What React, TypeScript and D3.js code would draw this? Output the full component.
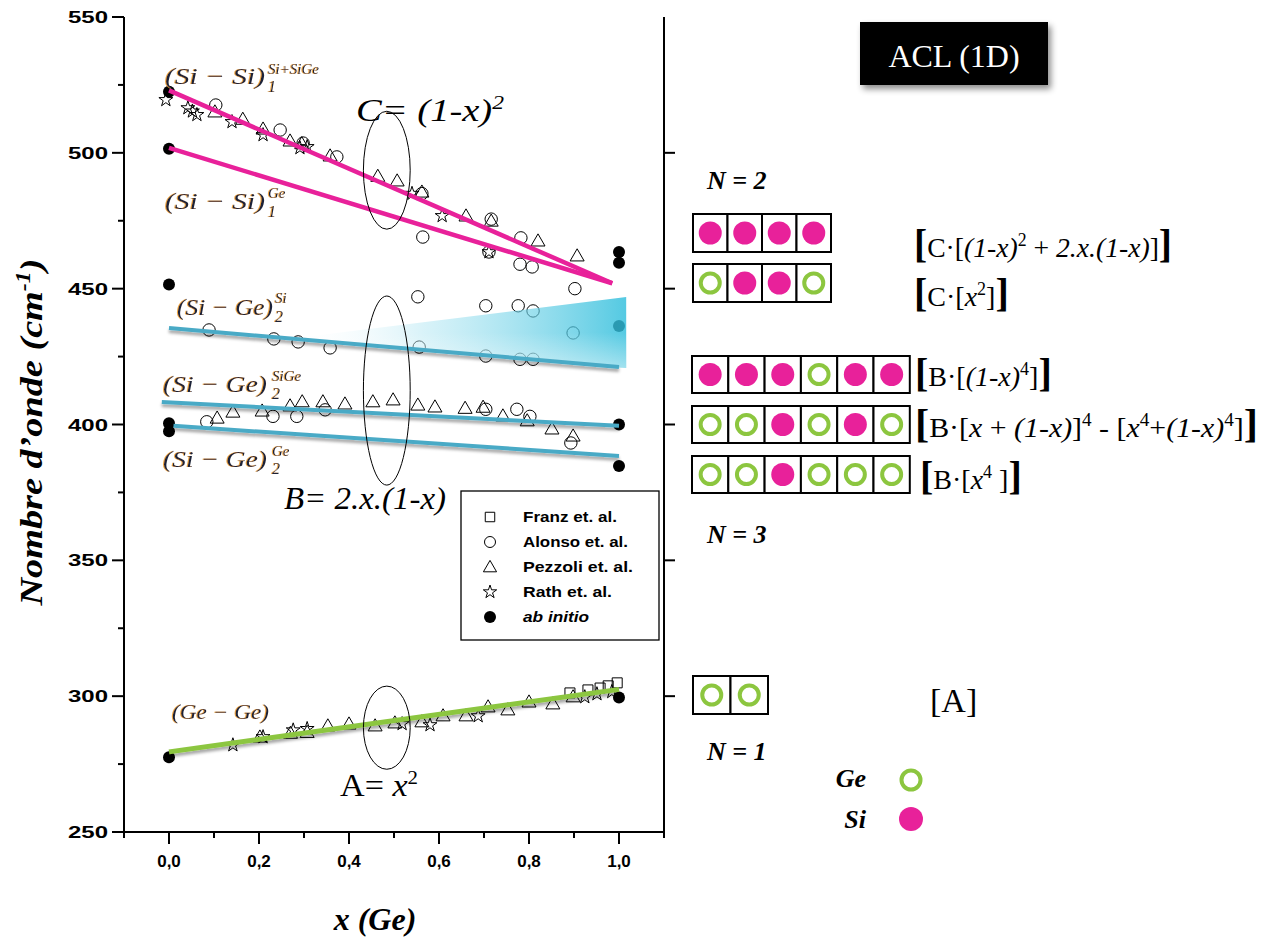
import React from "react";
import * as d3 from "d3";

// ---------- data ----------
const xTickLabels = [0, 0.2, 0.4, 0.6, 0.8, 1.0];
const yTickLabels = [250, 300, 350, 400, 450, 500, 550];

const abInitio: [number, number][] = [
  [0, 522.5], [0, 501.5], [0, 451.5], [0, 400.5], [0, 397.5], [0, 277.5],
  [1, 463.5], [1, 459.5], [1, 436.3], [1, 400], [1, 384.7], [1, 299.5],
];

const franz: [number, number][] = [
  [0.891, 301.2], [0.931, 302.3], [0.958, 303], [0.976, 303.8], [0.996, 304.9],
];

const alonso: [number, number][] = [
  [0.104, 517.6], [0.247, 508.4], [0.298, 503.6], [0.373, 498.5], [0.562, 485],
  [0.564, 469], [0.716, 475.6], [0.711, 463.5], [0.782, 468.7], [0.78, 459],
  [0.807, 458], [0.902, 450],
  [0.089, 434.8], [0.233, 431.5], [0.287, 430.4], [0.358, 428.2], [0.553, 447],
  [0.704, 443.7], [0.776, 443.7], [0.809, 441.8], [0.898, 433.7], [0.556, 428.5],
  [0.704, 425.2], [0.78, 424], [0.809, 424],
  [0.084, 401], [0.231, 403], [0.284, 403], [0.347, 405.4], [0.704, 405.6],
  [0.773, 405.6], [0.802, 403], [0.893, 393.2],
];

const pezzoli: [number, number][] = [
  [0.102, 514.7], [0.164, 512], [0.209, 508.4], [0.269, 504], [0.295, 503],
  [0.358, 498.5], [0.464, 491], [0.507, 489.3], [0.562, 485.2], [0.66, 476.4],
  [0.716, 474.5], [0.82, 467.2], [0.907, 461.7],
  [0.107, 402], [0.142, 404.2], [0.207, 404.6], [0.269, 406.5], [0.296, 408],
  [0.342, 408], [0.391, 407.2], [0.453, 408], [0.498, 408.7], [0.553, 406.8],
  [0.591, 406.1], [0.658, 405.6], [0.698, 406], [0.742, 402.8], [0.796, 401],
  [0.851, 398], [0.898, 395.4],
  [0.202, 284.6], [0.27, 286], [0.307, 286.3], [0.353, 288.7], [0.4, 289.4],
  [0.458, 288.7], [0.502, 289.8], [0.562, 290.2], [0.609, 292.4], [0.66, 292.4],
  [0.709, 295.7], [0.753, 294.6], [0.8, 297.5], [0.853, 296.8], [0.898, 299.4],
];

const rath: [number, number][] = [
  [-0.007, 519.5], [0.042, 516.5], [0.052, 515.3], [0.062, 514], [0.14, 511.4],
  [0.209, 506.6], [0.291, 501.8], [0.307, 502.2], [0.54, 485], [0.607, 476.8],
  [0.711, 463.5],
  [0.142, 282], [0.209, 285], [0.276, 287.5], [0.307, 288], [0.518, 289.8],
  [0.58, 289.4], [0.687, 292.7], [0.924, 299.7], [0.951, 300.8], [0.984, 301.6],
];

const siSiLine1: [number, number][] = [[0, 523], [0.985, 452]];
const siSiLineGe: [number, number][] = [[0, 501.8], [0.985, 452]];
const siGeLineSi: [number, number][] = [[0, 435.5], [1, 421.2]];
const siGeLineSiGe: [number, number][] = [[-0.016, 408.3], [1, 399.5]];
const siGeLineGe: [number, number][] = [[0.01, 399.5], [1, 388.4]];
const geGeLine: [number, number][] = [[0, 279.5], [1, 302.5]];

const wedge: [number, number][] = [[0.269, 431.6], [1.016, 446.9], [1.016, 420.8]];

// ellipses: [cx, cy, halfWidthX, halfHeightY] in data units
const ellipses: [number, number, number, number][] = [
  [0.484, 493.6, 0.052, 21.7],
  [0.484, 412.5, 0.052, 34.8],
  [0.484, 288.4, 0.052, 15.3],
];

const legendItems = ["Franz et. al.", "Alonso et. al.", "Pezzoli et. al.", "Rath et. al.", "ab initio"];
const legendWidths = [94, 105, 110, 89, 66];

// cell patterns: S = Si (filled pink), G = Ge (green ring)
const rowsN2 = ["SSSS", "GSSG"];
const rowsN3 = ["SSSGSS", "GGSGSG", "GGSGGG"];
const rowsN1 = ["GG"];

const PINK = "#e8219a";
const GREEN = "#8cc63f";
const BLUE = "#4aaac6";

export default function App() {
  const x = d3.scaleLinear().domain([-0.1, 1.1]).range([124, 664]);
  const y = d3.scaleLinear().domain([250, 550]).range([832, 17]);
  const line = d3.line<[number, number]>().x((d) => x(d[0])).y((d) => y(d[1]));

  const sym = (type: d3.SymbolType, size: number) => d3.symbol().type(type).size(size)() as string;
  const sq = sym(d3.symbolSquare, 100);
  const tri = sym(d3.symbolTriangle, 85);
  const star = sym(d3.symbolStar, 60);

  const yAll = d3.range(250, 551, 25);
  const xAll = d3.range(-0.1, 1.1001, 0.1);
  const fmt = (v: number) => d3.format(".1f")(v).replace(".", ",");

  const serif = "'Liberation Serif', 'Times New Roman', serif";
  const sans = "'Liberation Sans', Arial, sans-serif";
  const mathCol = "#1e2438";

  const bondLabel = (
    key: string, main: string, sup: string, sub: string,
    tx: number, ty: number, w: number, supX: number, supY: number, subY: number, fs = 24
  ) => (
    <g key={key} filter="url(#glow)" fill={mathCol} fontFamily={serif} fontStyle="italic">
      <text x={tx} y={ty} fontSize={fs} textLength={w} lengthAdjust="spacingAndGlyphs">{main}</text>
      {sup && <text x={supX} y={supY} fontSize={15}>{sup}</text>}
      {sub && <text x={supX} y={subY} fontSize={16}>{sub}</text>}
    </g>
  );

  const cellRow = (pattern: string, x0: number, y0: number, cw: number, ch: number, key: string) => (
    <g key={key}>
      {pattern.split("").map((c, i) => (
        <g key={i}>
          <rect x={x0 + i * cw} y={y0} width={cw} height={ch} fill="white" stroke="black" strokeWidth={2} />
          {c === "S" ? (
            <circle cx={x0 + i * cw + cw / 2} cy={y0 + ch / 2} r={11.5} fill={PINK} />
          ) : (
            <circle cx={x0 + i * cw + cw / 2} cy={y0 + ch / 2} r={9.5} fill="none" stroke={GREEN} strokeWidth={4} />
          )}
        </g>
      ))}
    </g>
  );

  const sup = (t: string, fs = 19) => <tspan fontSize={fs} dy={-12}>{t}</tspan>;

  return (
    <svg width={1278} height={939} style={{ position: "absolute", left: 0, top: 0, background: "white" }}>
      <defs>
        <filter id="shadow" x="-5%" y="-50%" width="110%" height="250%">
          <feDropShadow dx="0" dy="3" stdDeviation="1.8" floodColor="#000" floodOpacity="0.35" />
        </filter>
        <filter id="boxShadow" x="-10%" y="-10%" width="130%" height="140%">
          <feDropShadow dx="3" dy="4" stdDeviation="3" floodColor="#000" floodOpacity="0.45" />
        </filter>
        <filter id="glow" x="-10%" y="-30%" width="120%" height="160%">
          <feGaussianBlur in="SourceAlpha" stdDeviation="0.5" result="b" />
          <feOffset in="b" dx="-1.1" dy="0.4" result="o" />
          <feFlood floodColor="#f0a030" floodOpacity="0.9" />
          <feComposite in2="o" operator="in" result="g" />
          <feMerge>
            <feMergeNode in="g" />
            <feMergeNode in="SourceGraphic" />
          </feMerge>
        </filter>
        <linearGradient id="wedgeGrad" x1="0" y1="0.5" x2="1" y2="0.5">
          <stop offset="0" stopColor="#ffffff" stopOpacity="0" />
          <stop offset="0.4" stopColor="#a8e3f1" stopOpacity="0.45" />
          <stop offset="1" stopColor="#2fbedc" stopOpacity="0.82" />
        </linearGradient>
        <linearGradient id="wedgeShade" x1="0" y1="0" x2="0" y2="1">
          <stop offset="0" stopColor="#ffffff" stopOpacity="0" />
          <stop offset="0.5" stopColor="#ffffff" stopOpacity="0" />
          <stop offset="1" stopColor="#ffffff" stopOpacity="0.45" />
        </linearGradient>
      </defs>

      {/* axes */}
      <g stroke="black" strokeWidth={2} fill="none">
        <line x1={x(-0.1)} x2={x(-0.1)} y1={y(550)} y2={y(250)} />
        <line x1={x(-0.1)} x2={x(1.1)} y1={y(250)} y2={y(250)} />
        <line x1={x(1.1)} x2={x(1.1)} y1={y(550)} y2={y(250)} />
        {yAll.map((v) => (
          <line key={"yt" + v} x1={x(-0.1)} x2={x(-0.1) - (v % 50 === 0 ? 12 : 6)} y1={y(v)} y2={y(v)} />
        ))}
        {yTickLabels.filter((v) => v > 250 && v < 550).map((v) => (
          <line key={"yr" + v} x1={x(1.1)} x2={x(1.1) + 11} y1={y(v)} y2={y(v)} />
        ))}
        {xAll.map((v, i) => (
          <line key={"xt" + i} x1={x(v)} x2={x(v)} y1={y(250)} y2={y(250) + (i % 2 === 1 ? 12 : 6)} />
        ))}
      </g>
      <g fontFamily={sans} fontWeight="bold" fontSize={17} fill="black">
        {yTickLabels.map((v) => (
          <text key={"yl" + v} x={68} y={y(v) + 6} textLength={40} lengthAdjust="spacingAndGlyphs">{v}</text>
        ))}
        {xTickLabels.map((v) => (
          <text key={"xl" + v} x={x(v)} y={867} textAnchor="middle">{fmt(v)}</text>
        ))}
      </g>
      <text transform="translate(42,432) rotate(-90)" textAnchor="middle" fontFamily={serif}
        fontWeight="bold" fontStyle="italic" fontSize={32} textLength={347} lengthAdjust="spacingAndGlyphs">
        Nombre d’onde (cm<tspan fontSize={20} dy={-12}>-1</tspan><tspan dy={12}>)</tspan>
      </text>
      <text x={375} y={930} textAnchor="middle" fontFamily={serif} fontWeight="bold" fontStyle="italic" fontSize={32}>
        x (Ge)
      </text>

      {/* markers */}
      <g fill="none" stroke="black" strokeWidth={1}>
        {franz.map((d, i) => <path key={"f" + i} d={sq} transform={`translate(${x(d[0])},${y(d[1])})`} />)}
        {alonso.map((d, i) => <circle key={"a" + i} cx={x(d[0])} cy={y(d[1])} r={6.2} />)}
        {pezzoli.map((d, i) => <path key={"p" + i} d={tri} transform={`translate(${x(d[0])},${y(d[1])})`} />)}
        {rath.map((d, i) => <path key={"r" + i} d={star} transform={`translate(${x(d[0])},${y(d[1])})`} />)}
      </g>
      <g fill="black">
        {abInitio.map((d, i) => <circle key={"b" + i} cx={x(d[0])} cy={y(d[1])} r={6} />)}
      </g>

      {/* wedge */}
      <path d={line(wedge) + "Z"} fill="url(#wedgeGrad)" />
      <path d={line(wedge) + "Z"} fill="url(#wedgeShade)" />

      {/* lines */}
      <g fill="none" strokeWidth={4.5} strokeLinecap="butt">
        <path d={line(siSiLine1)!} stroke={PINK} />
        <path d={line(siSiLineGe)!} stroke={PINK} />
        <g filter="url(#shadow)" stroke={BLUE} strokeWidth={4}>
          <path d={line(siGeLineSi)!} />
          <path d={line(siGeLineSiGe)!} />
          <path d={line(siGeLineGe)!} />
        </g>
        <path d={line(geGeLine)!} stroke={GREEN} strokeWidth={5} filter="url(#shadow)" />
      </g>

      {/* ellipses */}
      <g fill="none" stroke="black" strokeWidth={1}>
        {ellipses.map((e, i) => (
          <ellipse key={"e" + i} cx={x(e[0])} cy={y(e[1])} rx={x(e[0] + e[2]) - x(e[0])} ry={y(e[1] - e[3]) - y(e[1])} />
        ))}
      </g>

      {/* annotation labels */}
      {bondLabel("l1", "(Si − Si)", "Si+SiGe", "1", 165, 84, 100, 268, 74, 92)}
      {bondLabel("l2", "(Si − Si)", "Ge", "1", 165, 209, 100, 268, 198, 217)}
      {bondLabel("l3", "(Si − Ge)", "Si", "2", 177, 315, 96, 275, 303, 322)}
      {bondLabel("l4", "(Si − Ge)", "SiGe", "2", 163, 392, 104, 272, 381, 399)}
      {bondLabel("l5", "(Si − Ge)", "Ge", "2", 163, 467, 104, 272, 456, 474)}
      {bondLabel("l6", "(Ge − Ge)", "", "", 172, 719, 97, 0, 0, 0, 21)}

      <g fontFamily={serif} fontSize={31} fill="black">
        <text x={356} y={121} fontStyle="italic" textLength={148} lengthAdjust="spacingAndGlyphs">C= (1-x){sup("2")}</text>
        <text x={284} y={509} fontStyle="italic" textLength={162} lengthAdjust="spacingAndGlyphs">B= 2.x.(1-x)</text>
        <text x={340} y={796} textLength={78} lengthAdjust="spacingAndGlyphs">A= <tspan fontStyle="italic">x</tspan>{sup("2")}</text>
      </g>

      {/* legend */}
      <rect x={461} y={491} width={198} height={149} fill="white" stroke="black" strokeWidth={1.3} />
      {legendItems.map((t, i) => {
        const cy = 517 + i * 25;
        const cx = 490;
        let mark;
        if (i === 0) mark = <path d={sym(d3.symbolSquare, 90)} transform={`translate(${cx},${cy})`} fill="none" stroke="black" />;
        else if (i === 1) mark = <circle cx={cx} cy={cy} r={5.5} fill="none" stroke="black" />;
        else if (i === 2) mark = <path d={sym(d3.symbolTriangle, 75)} transform={`translate(${cx},${cy + 1})`} fill="none" stroke="black" />;
        else if (i === 3) mark = <path d={sym(d3.symbolStar, 55)} transform={`translate(${cx},${cy})`} fill="none" stroke="black" />;
        else mark = <circle cx={cx} cy={cy} r={6} fill="black" />;
        return (
          <g key={"lg" + i}>
            {mark}
            <text x={523} y={cy + 5} fontFamily={sans} fontSize={15} fontWeight="bold"
              fontStyle={i === 4 ? "italic" : "normal"} textLength={legendWidths[i]} lengthAdjust="spacingAndGlyphs">{t}</text>
          </g>
        );
      })}

      {/* right panel */}
      <rect x={860} y={22} width={188} height={63} fill="black" filter="url(#boxShadow)" />
      <text x={954} y={67} textAnchor="middle" fontFamily={serif} fontSize={32} fill="white">ACL (1D)</text>

      <g fontFamily={serif} fontWeight="bold" fontStyle="italic" fontSize={26} fill="black">
        <text x={707} y={189}>N = 2</text>
        <text x={707} y={543}>N = 3</text>
        <text x={707} y={760}>N = 1</text>
        <text x={866} y={787} textAnchor="end">Ge</text>
        <text x={866} y={828} textAnchor="end">Si</text>
      </g>
      <circle cx={911} cy={780} r={9.5} fill="none" stroke={GREEN} strokeWidth={4} />
      <circle cx={911} cy={819} r={12} fill={PINK} />

      {rowsN2.map((p, i) => cellRow(p, 693, 214 + i * 50, 34.5, 38, "n2" + i))}
      {rowsN3.map((p, i) => cellRow(p, 692, 356 + i * 50, 36.3, 37, "n3" + i))}
      {rowsN1.map((p, i) => cellRow(p, 693, 676, 37.5, 38, "n1" + i))}

      <g fontFamily={serif} fontSize={28} fill="black">
        <text x={914} y={257} textLength={258} lengthAdjust="spacingAndGlyphs">
          <tspan fontSize={40} fontWeight="bold">[</tspan>C·[<tspan fontStyle="italic">(1-x)</tspan>
          <tspan fontSize={18} dy={-11}>2</tspan><tspan dy={11}> + </tspan>
          <tspan fontStyle="italic">2.x.(1-x)</tspan>]<tspan fontSize={40} fontWeight="bold">]</tspan>
        </text>
        <text x={914} y={306}>
          <tspan fontSize={40} fontWeight="bold">[</tspan>C·[<tspan fontStyle="italic">x</tspan>
          <tspan fontSize={18} dy={-11}>2</tspan><tspan dy={11}>]</tspan>
          <tspan fontSize={40} fontWeight="bold">]</tspan>
        </text>
        <text x={915} y={386}>
          <tspan fontSize={40} fontWeight="bold">[</tspan>B·[<tspan fontStyle="italic">(1-x)</tspan>
          <tspan fontSize={18} dy={-11}>4</tspan><tspan dy={11}>]</tspan>
          <tspan fontSize={40} fontWeight="bold">]</tspan>
        </text>
        <text x={915} y={437} textLength={343} lengthAdjust="spacingAndGlyphs">
          <tspan fontSize={40} fontWeight="bold">[</tspan>B·[<tspan fontStyle="italic">x</tspan> + <tspan fontStyle="italic">(1-x)</tspan>]
          <tspan fontSize={18} dy={-11}>4</tspan><tspan dy={11}> - [</tspan><tspan fontStyle="italic">x</tspan>
          <tspan fontSize={18} dy={-11}>4</tspan><tspan dy={11}>+</tspan><tspan fontStyle="italic">(1-x)</tspan>
          <tspan fontSize={18} dy={-11}>4</tspan><tspan dy={11}>]</tspan>
          <tspan fontSize={40} fontWeight="bold">]</tspan>
        </text>
        <text x={920} y={489}>
          <tspan fontSize={40} fontWeight="bold">[</tspan>B·[<tspan fontStyle="italic">x</tspan>
          <tspan fontSize={18} dy={-11}>4</tspan><tspan dy={11}> ]</tspan>
          <tspan fontSize={40} fontWeight="bold">]</tspan>
        </text>
        <text x={930} y={712} fontSize={34}>[A]</text>
      </g>
    </svg>
  );
}
